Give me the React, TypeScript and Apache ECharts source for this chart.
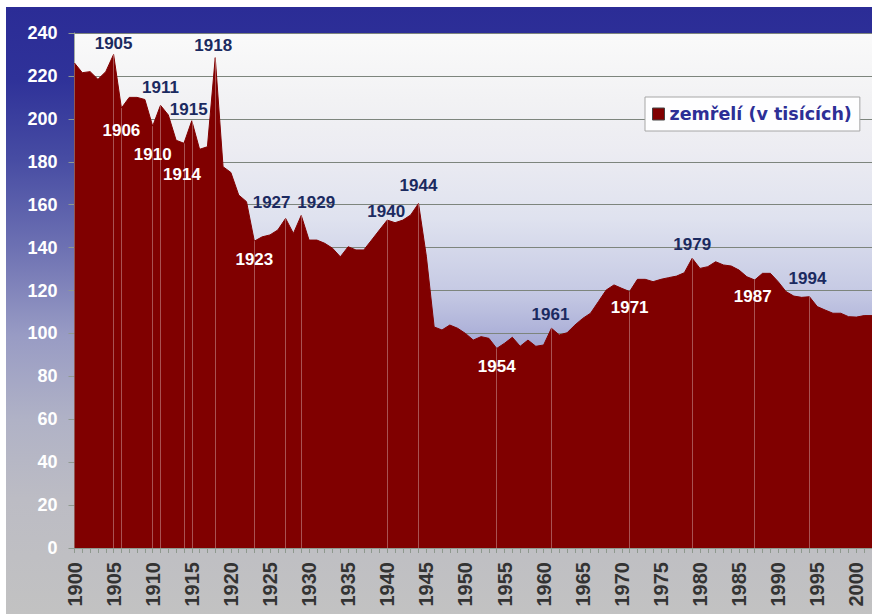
import React, { useEffect, useRef } from "react";
import * as echarts from "echarts";

const SERIES_NAME = "zemřelí (v tisících)";
const FIRST_YEAR = 1900;

// deaths in thousands, one value per year
const deaths1900s = [226, 221.5, 222, 218.4, 222, 230, 205, 210, 210, 209];
const deaths1910s = [196.6, 206.3, 201.8, 190, 188.6, 199.1, 185.8, 187, 228.5, 177.7];
const deaths1920s = [175, 164.5, 161.4, 143, 145, 145.9, 148.2, 153.6, 146.6, 155];
const deaths1930s = [143.5, 143.5, 142, 139.7, 135.7, 140.4, 138.9, 138.9, 143.5, 148.2];
const deaths1940s = [152.8, 151.6, 152.8, 155.2, 160.6, 136, 103, 101.6, 103.9, 102.4];
const deaths1950s = [100, 96.9, 98.5, 97.7, 93, 95.4, 98.2, 94, 96.9, 94];
const deaths1960s = [94.6, 102.4, 99.3, 100.3, 103.9, 107, 109.4, 114.8, 120.2, 122.6];
const deaths1970s = [121, 119.5, 125.2, 125.2, 124.1, 125.2, 126, 126.7, 128.3, 135];
const deaths1980s = [130.3, 131.1, 133.4, 131.9, 131.4, 129.5, 126.4, 124.9, 128, 128];
const deaths1990s = [124.1, 119.5, 117.4, 116.8, 117.1, 112.5, 110.9, 109.4, 109.4, 107.8];
const deaths2000s = [107.6, 108.3, 108.3];

const yearsMarkedAbove = [1905, 1911, 1915, 1918, 1927, 1929, 1940, 1944, 1961, 1979, 1994];
const yearsMarkedBelow = [1906, 1910, 1914, 1923, 1954, 1971, 1987];

// label placement (style): offset of the label centre from the data point, px
const labelOffset: Record<number, [number, number]> = {
  1905: [0, -11], 1911: [0, -18], 1915: [-3, -11], 1918: [-2, -12],
  1927: [-14, -16], 1929: [15, -13], 1940: [-1, -9], 1944: [0, -18],
  1961: [-1, -14], 1979: [0, -14], 1994: [-2, -18],
  1906: [0, 22], 1910: [0, 28], 1914: [-2, 31], 1923: [0, 18],
  1954: [0, 18], 1971: [0, 16], 1987: [-2, 17],
};

export default function App() {
  const ref = useRef<HTMLDivElement>(null);

  useEffect(() => {
    document.body.style.margin = "0";
    document.body.style.overflow = "hidden";
    if (!ref.current) return;
    const chart = echarts.init(ref.current, undefined, { renderer: "svg" });

    const values = [
      ...deaths1900s, ...deaths1910s, ...deaths1920s, ...deaths1930s, ...deaths1940s,
      ...deaths1950s, ...deaths1960s, ...deaths1970s, ...deaths1980s, ...deaths1990s,
      ...deaths2000s,
    ];
    const lastYear = FIRST_YEAR + values.length - 1;
    const points = values.map((v, i) => [FIRST_YEAR + i, v]);
    const valueOf = (y: number) => values[y - FIRST_YEAR];
    const marked = [...yearsMarkedAbove, ...yearsMarkedBelow].sort((a, b) => a - b);

    const labelFont = {
      fontFamily: "Liberation Sans",
      fontWeight: "bold" as const,
      fontSize: 17,
    };

    const annotationData = marked.map((y) => {
      const above = yearsMarkedAbove.includes(y);
      return {
        value: [y, valueOf(y)],
        label: {
          show: true,
          position: "inside",
          offset: labelOffset[y] || [0, 0],
          color: above ? "#1b2a60" : "#ffffff",
          opacity: 1,
          textBorderWidth: 0,
          textBorderColor: "transparent",
          textShadowBlur: 0,
          ...labelFont,
          formatter: String(y),
        },
      };
    });

    const axisGrey = "#8f998f";

    chart.setOption({
      animation: false,
      grid: {
        left: 68.5,
        top: 26,
        bottom: 66,
        right: 0,
        show: true,
        borderWidth: 0,
        backgroundColor: new echarts.graphic.LinearGradient(0, 0, 0, 1, [
          { offset: 0, color: "#fafafa" },
          { offset: 0.13, color: "#f2f2f4" },
          { offset: 0.23, color: "#ececf2" },
          { offset: 0.36, color: "#dfe2ef" },
          { offset: 0.5, color: "#c6cae4" },
          { offset: 0.6, color: "#a8acd6" },
          { offset: 1, color: "#7c82c2" },
        ]),
      },
      legend: {
        left: 639,
        top: 90,
        backgroundColor: "#fefeff",
        borderColor: "#a6a6a6",
        borderWidth: 1,
        padding: [8, 8, 8, 7],
        itemWidth: 12,
        itemHeight: 12,
        icon: "rect",
        itemStyle: { color: "#800000", borderColor: "#444444", borderWidth: 1 },
        textStyle: {
          color: "#2d2f96",
          fontFamily: "DejaVu Sans",
          fontWeight: "bold",
          fontSize: 17.5,
        },
        data: [SERIES_NAME],
      },
      xAxis: [
        {
          type: "value",
          min: FIRST_YEAR,
          max: lastYear,
          interval: 5,
          axisLine: { show: true, lineStyle: { color: axisGrey } },
          axisTick: { show: false },
          splitLine: { show: false },
          axisLabel: {
            rotate: 90,
            margin: 14,
            color: "#333333",
            fontFamily: "Liberation Sans",
            fontWeight: "bold",
            fontSize: 20,
            formatter: (v: number) => (v % 5 === 0 ? String(v) : ""),
          },
        },
        {
          type: "value",
          position: "bottom",
          min: FIRST_YEAR,
          max: lastYear,
          interval: 1,
          axisLine: { show: false },
          axisTick: { show: true, length: 5, lineStyle: { color: axisGrey } },
          splitLine: { show: false },
          axisLabel: { show: false },
        },
      ],
      yAxis: {
        type: "value",
        min: 0,
        max: 240,
        interval: 20,
        axisLine: { show: true, lineStyle: { color: "#a4ada4" } },
        axisTick: { show: true, length: 6, lineStyle: { color: axisGrey } },
        splitLine: { show: true, lineStyle: { color: "#7d857d", width: 1 } },
        axisLabel: {
          color: "#ffffff",
          fontFamily: "Liberation Sans",
          fontWeight: "bold",
          fontSize: 18,
          margin: 17,
        },
      },
      series: [
        {
          name: SERIES_NAME,
          type: "line",
          xAxisIndex: 0,
          data: points,
          symbol: "none",
          showSymbol: false,
          lineStyle: { width: 1, color: "#800000" },
          itemStyle: { color: "#800000" },
          areaStyle: { color: "#800000", opacity: 1 },
          z: 2,
          markLine: {
            silent: true,
            symbol: ["none", "none"],
            label: { show: false },
            lineStyle: { color: "rgba(255,255,255,0.32)", width: 1, type: "solid" },
            data: marked.map((y) => [
              { coord: [y, valueOf(y)] },
              { coord: [y, 0] },
            ]),
          },
        },
        {
          name: "annotations",
          type: "scatter",
          xAxisIndex: 0,
          data: annotationData,
          symbol: "circle",
          symbolSize: 1,
          itemStyle: { color: "rgba(0,0,0,0)", opacity: 1 },
          silent: true,
          z: 5,
        },
      ],
    });

    return () => chart.dispose();
  }, []);

  return (
    <div style={{ position: "relative", width: 872, height: 614, background: "#ffffff", overflow: "hidden" }}>
      <div
        ref={ref}
        style={{
          position: "absolute",
          left: 6,
          top: 7,
          width: 866,
          height: 607,
          background:
            "linear-gradient(to bottom, #2b2c96 0%, #2f3299 12%, #474ca3 25%, #6e72b3 40%, #989bc4 54%, #b0b2c6 68%, #bcbcc4 81%, #c2c2c2 100%)",
        }}
      />
    </div>
  );
}
